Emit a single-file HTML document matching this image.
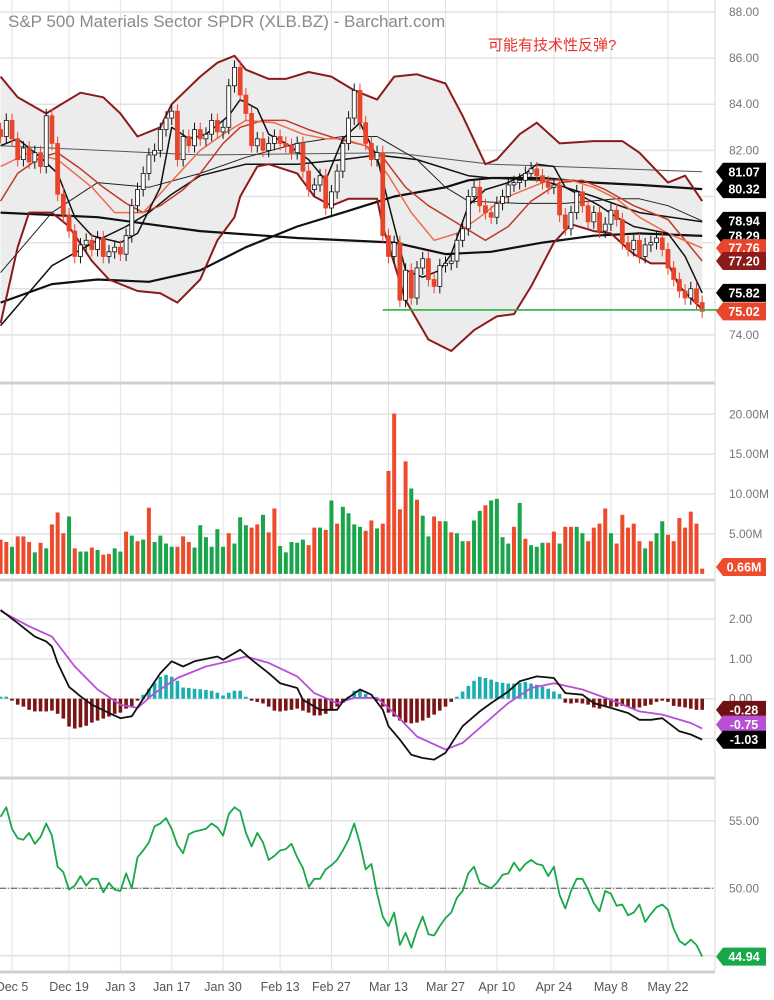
<!DOCTYPE html>
<html><head><meta charset="utf-8"><style>
html,body{margin:0;padding:0;background:#fff;}
svg{display:block;font-family:"Liberation Sans","Noto Sans CJK SC",sans-serif;}
</style></head><body>
<svg id="chart" width="774" height="1000" viewBox="0 0 774 1000" xmlns="http://www.w3.org/2000/svg">
<rect x="0" y="0" width="774" height="1000" fill="#fff"/>
<g id="grid"></g>
<g id="price"></g>
<g id="vol"></g>
<g id="macd"></g>
<g id="rsi"></g>
<g id="axes"></g>
<text x="8" y="27" font-size="17" fill="#8a8a8a">S&amp;P 500 Materials Sector SPDR (XLB.BZ) - Barchart.com</text>
<text x="488" y="50" font-size="15" fill="#e8302a">可能有技术性反弹?</text>
</svg>
<script>
// ---------- data ----------
const dateLabels = ["Dec 5","Dec 19","Jan 3","Jan 17","Jan 30","Feb 13","Feb 27","Mar 13","Mar 27","Apr 10","Apr 24","May 8","May 22"];
const dateIdx = [2,12,21,30,39,49,58,68,78,87,97,107,117];
const closes = [82.6,83.3,82.5,81.6,82.1,81.5,81.9,81.3,83.5,82.3,80.1,79.2,78.5,77.4,77.9,78.1,77.7,78.2,77.4,77.6,77.8,77.5,78.3,79.6,80.3,81.0,81.8,82.0,82.9,83.4,83.7,81.6,82.6,82.2,82.9,82.5,82.7,83.3,82.8,83.0,84.8,85.6,84.4,83.6,82.2,82.5,82.0,82.3,82.6,82.3,82.2,81.9,82.3,81.1,80.3,80.5,80.9,79.5,80.2,81.1,82.3,83.4,84.6,83.2,82.3,81.6,81.9,78.3,77.4,78.0,75.5,76.8,75.6,76.9,77.3,76.4,76.1,77.0,77.1,77.2,78.1,78.6,80.0,80.4,79.6,79.3,79.1,79.7,80.0,80.5,80.6,80.7,81.0,81.2,80.9,80.6,80.4,80.5,79.2,78.6,79.3,80.2,79.6,78.9,79.3,78.5,78.8,79.4,79.0,78.0,77.7,78.1,77.4,77.9,78.0,78.2,77.7,76.9,76.4,75.9,75.6,76.0,75.4,75.02];
const volumes = [4.3,4.0,3.4,4.7,4.7,4.0,2.7,3.9,3.2,6.2,7.7,5.1,7.2,3.2,2.8,2.8,3.3,3.0,2.4,2.5,3.2,2.8,5.3,4.8,4.1,4.3,8.3,4.0,4.8,3.8,3.4,3.4,4.7,4.0,3.3,6.1,4.6,3.4,5.6,3.4,5.1,3.8,7.1,6.1,5.8,6.2,7.4,5.2,8.2,3.5,2.7,4.0,3.9,4.3,3.6,5.8,5.8,5.5,9.2,6.3,8.4,7.6,6.2,5.9,5.4,6.7,5.7,6.3,12.9,20.1,8.1,14.1,10.7,9.3,7.3,4.7,7.2,6.6,6.6,5.2,5.1,4.1,4.1,6.7,7.9,8.6,9.2,9.4,4.6,3.8,5.9,8.9,4.4,3.6,3.4,3.9,3.9,5.3,3.8,5.9,5.9,5.9,5.1,4.1,5.8,6.3,8.2,5.1,3.8,7.4,5.8,6.3,4.1,3.2,4.1,5.1,6.6,4.9,4.1,7.0,5.8,7.8,6.3,0.66];
const volColors = "rrgrrrgrgrrrgrggrgrrggrgrgrgggg" + "rrrgggggg" + "rggg" + "rrgrrgg" + "gggrrgrgrg" + "gggrrgrrrr" + "rgrggrrgrg" + "grggrggggr" + "grgggrrgrr" + "ggrrrrgrrr" + "rrgrggrrrr" + "rrr";
const macdIdx = [0,3,6,8,9,10,12,14,16,19,21,23,25,28,30,32,34,38,39,42,44,47,49,52,53,56,59,60,63,65,67,68,70,72,74,76,78,81,84,86,89,91,94,97,99,102,104,107,110,112,114,116,119,121,123];
const macdVals = [2.23,1.9,1.56,1.44,1.31,0.9,0.3,0.06,-0.15,-0.36,-0.49,-0.44,0,0.64,0.94,0.81,0.94,1.06,0.98,1.23,0.98,0.64,0.39,0.27,-0.03,-0.28,-0.28,-0.07,0.23,0.1,-0.28,-0.69,-1.03,-1.41,-1.49,-1.53,-1.36,-0.69,-0.32,-0.11,0.18,0.44,0.56,0.52,0.14,0.1,-0.11,-0.23,-0.36,-0.53,-0.53,-0.49,-0.82,-0.9,-1.03];
const signalIdx = [0,5,9,13,17,21,24,27,31,36,40,43,47,52,55,59,62,66,69,73,78,81,85,89,93,97,102,107,112,116,121,123];
const signalVals = [2.2,1.82,1.56,0.81,0.23,-0.15,-0.23,0.14,0.52,0.81,0.94,1.06,0.9,0.56,0.14,-0.11,0.02,0.02,-0.36,-0.95,-1.28,-1.11,-0.61,-0.11,0.27,0.39,0.23,-0.03,-0.32,-0.4,-0.61,-0.75];
const histVals = [0.05,0.05,-0.05,-0.15,-0.2,-0.28,-0.32,-0.32,-0.32,-0.3,-0.38,-0.5,-0.7,-0.75,-0.72,-0.68,-0.6,-0.55,-0.5,-0.45,-0.38,-0.35,-0.25,-0.2,-0.05,0.1,0.25,0.4,0.55,0.6,0.55,0.45,0.28,0.27,0.25,0.24,0.22,0.2,0.15,0.08,0.15,0.2,0.2,0.05,-0.05,-0.08,-0.12,-0.2,-0.3,-0.32,-0.3,-0.28,-0.25,-0.3,-0.35,-0.42,-0.42,-0.38,-0.3,-0.2,-0.1,0.05,0.2,0.2,0.12,0.05,-0.05,-0.2,-0.35,-0.45,-0.55,-0.6,-0.62,-0.6,-0.55,-0.48,-0.4,-0.3,-0.2,-0.08,0.05,0.18,0.32,0.45,0.55,0.52,0.48,0.42,0.4,0.38,0.38,0.4,0.42,0.38,0.35,0.3,0.25,0.18,0.12,-0.1,-0.12,-0.1,-0.12,-0.15,-0.22,-0.25,-0.18,-0.2,-0.2,-0.18,-0.2,-0.25,-0.22,-0.18,-0.15,-0.08,-0.05,-0.08,-0.18,-0.2,-0.22,-0.25,-0.28,-0.28];
const rsiVals = [55.3,56.0,54.4,53.7,53.6,54.1,53.3,53.8,54.8,53.9,51.6,51.2,49.9,50.2,50.9,50.2,50.7,50.7,49.7,50.4,49.9,49.8,51.1,50.0,52.3,52.8,53.4,54.6,54.8,55.2,54.4,53.2,52.6,54.0,54.2,54.3,54.4,54.8,54.5,53.9,55.5,56.0,55.7,54.1,53.1,54.1,53.4,52.1,52.4,52.8,52.9,53.3,52.3,51.5,50.1,50.7,50.7,51.4,51.7,52.1,52.8,53.6,54.8,53.3,51.4,51.8,49.6,47.9,47.2,48.2,45.8,46.7,45.6,46.9,47.9,46.6,46.5,47.2,47.8,48.2,49.3,49.8,51.1,51.6,50.4,50.2,50.0,50.4,51.0,51.1,51.9,51.3,51.8,52.1,51.8,51.7,50.9,51.6,49.5,48.5,49.8,50.7,50.7,49.9,48.9,48.3,49.8,49.6,48.7,48.8,48.0,48.2,48.8,47.5,48.1,48.6,48.8,48.4,47.0,46.1,45.8,46.2,45.8,44.94];
// overlay lines (day index, price)
const upperIdx = [0,3,8,10,14,18,21,24,28,30,35,38,41,43,47,50,54,58,62,66,69,73,78,81,85,87,91,94,98,104,109,112,117,120,123];
const upperVals = [85.2,84.3,83.6,83.9,84.5,84.3,83.6,82.6,83.0,84.0,85.2,85.8,86.1,85.5,85.1,85.1,85.4,85.2,84.6,84.2,85.2,85.3,84.9,83.5,81.4,81.6,82.7,83.2,82.3,82.4,82.4,81.9,80.6,80.9,79.8];
const lowerIdx = [0,3,5,9,12,16,19,24,28,31,35,38,41,42,45,47,52,55,58,61,66,67,71,75,79,83,87,90,93,97,100,104,107,111,114,117,119,123];
const lowerVals = [74.5,77.8,79.3,79.3,78.7,77.2,76.4,75.9,75.8,75.4,76.4,78.1,79.1,80.0,81.3,81.4,81.0,80.0,79.6,79.9,79.9,78.7,75.5,73.8,73.3,74.2,74.8,74.9,76.1,78.0,78.8,78.5,78.4,77.5,77.1,77.1,76.1,75.1];
const midIdx = [0,3,7,10,14,18,22,25,28,32,35,39,42,46,50,54,59,64,67,71,75,79,85,89,93,98,102,106,111,117,123];
const midVals = [79.8,81.0,81.7,81.9,81.2,80.4,79.7,79.3,79.6,80.3,81.0,82.3,83.0,83.3,83.3,82.9,82.5,82.2,81.7,80.4,79.6,79.0,78.1,78.7,79.8,80.6,80.7,80.3,79.6,79.0,77.2];
const emaIdx = [0,5,10,16,20,25,29,35,39,43,48,53,57,60,64,68,72,76,80,84,88,92,96,100,104,108,112,117,123];
const emaVals = [81.3,81.9,81.6,80.4,79.3,79.3,80.4,82.0,82.7,83.3,83.2,82.7,82.5,82.5,82.2,80.9,79.3,78.1,78.4,79.1,79.9,80.3,80.7,80.7,80.4,79.9,79.1,78.4,77.76];
const fastIdx = [0,3,7,10,13,16,21,24,28,30,33,36,40,42,45,47,50,54,57,60,63,66,68,71,74,77,79,82,85,89,92,94,97,99,102,105,108,111,115,117,120,123];
const fastVals = [82.2,82.5,81.7,81.0,79.1,78.3,78.0,78.4,80.4,83.0,82.5,82.7,83.5,84.2,83.8,82.7,82.3,81.6,80.7,82.5,83.2,81.7,79.7,76.8,76.5,76.8,77.5,79.6,80.3,80.6,81.0,81.4,81.3,80.4,80.0,79.6,79.1,78.7,78.5,78.4,77.4,75.82];
const ma30Idx = [0,9,17,26,35,43,52,60,66,73,78,82,91,99,108,112,117,123];
const ma30Vals = [76.7,79.3,80.6,80.4,81.0,81.7,82.3,82.6,82.6,81.6,80.4,79.8,79.7,79.7,79.9,79.9,79.6,78.94];
const ma50Idx = [0,9,17,22,26,30,35,43,52,60,66,73,82,86,95,99,104,112,123];
const ma50Vals = [74.4,77.0,78.1,78.7,79.3,80.1,80.9,81.4,81.4,81.6,81.8,81.6,80.9,80.8,80.7,80.4,80.0,79.3,78.9];
const ma100Idx = [0,17,35,52,69,78,86,95,104,112,123];
const ma100Vals = [79.3,79.1,78.5,78.2,78.0,77.5,77.6,78.0,78.3,78.4,78.29];
const ma150Idx = [0,9,17,26,35,43,52,60,69,78,82,86,95,104,112,123];
const ma150Vals = [75.4,76.2,76.4,76.3,76.8,77.8,78.7,79.3,80.0,80.4,80.7,80.8,80.8,80.6,80.5,80.32];
const ma200Idx = [0,35,69,86,123];
const ma200Vals = [82.2,81.8,81.9,81.4,81.07];
const supportLevel = 75.08;
const supportStart = 67;
const priceTicks = [88,86,84,82,74];
const volTicks = [20,15,10,5];
const macdTicks = [2,1,0];
const rsiTicks = [55,50];

// ---------- scales ----------
const NS = "http://www.w3.org/2000/svg";
const PLOT_R = 715;
function xs(i){return 0.6 + i*5.704;}
function py(p){return 12 + (88-p)*23.06;}
function vy(v){return 573.9 - v*7.98;}
function my(v){return 698.7 - v*39.8;}
function ry(v){return 888.3 - (v-50)*13.5;}
function mk(tag, attrs, parent){
  const e = document.createElementNS(NS, tag);
  for (const k in attrs) e.setAttribute(k, attrs[k]);
  parent.appendChild(e);
  return e;
}
const G = id => document.getElementById(id);

// ---------- grid ----------
const grid = G('grid');
const panels = [[0,381],[387,578],[584,776],[782,970]];
dateIdx.forEach((di,k)=>{
  const x = xs(di);
  const l = mk('line',{x1:x,x2:x,y1:0,y2:970,stroke:'#e2e2e2','stroke-width':1},grid);
  
  
  const t = mk('text',{x:x,y:991,'font-size':12.5,fill:'#555','text-anchor':'middle'},G('axes'));
  t.textContent = dateLabels[k];
  
  
});
function hline(y, parent){
  const l = mk('line',{x1:0,x2:PLOT_R,y1:y,y2:y,stroke:'#e2e2e2','stroke-width':1.5},parent);
  
  
}
function tickLabel(y, txt, parent){
  const t = mk('text',{x:729,y:y+4,'font-size':12,fill:'#777'},parent);
  t.textContent = txt;
  
  
}
[76,78,80].forEach(p=>hline(py(p),grid));
priceTicks.forEach(p=>{hline(py(p),grid);tickLabel(py(p),p.toFixed(2),G('axes'));});
volTicks.forEach(v=>{hline(vy(v),grid);tickLabel(vy(v),v.toFixed(2)+'M',G('axes'));});
macdTicks.forEach(v=>{hline(my(v),grid);tickLabel(my(v),v.toFixed(2),G('axes'));});
hline(my(-1),grid);
rsiTicks.forEach(v=>{hline(ry(v),grid);tickLabel(ry(v),v.toFixed(2),G('axes'));});
hline(ry(45),grid);
// separators and right border
[383,580,778,972].forEach(y=>{
  const l = mk('line',{x1:0,x2:PLOT_R,y1:y,y2:y,stroke:'#d0d0d0','stroke-width':3},grid);
  
  
});
const rb = mk('line',{x1:PLOT_R,x2:PLOT_R,y1:0,y2:972,stroke:'#d8d8d8','stroke-width':1},grid);



// ---------- price panel ----------
const price = G('price');
function pts(idx, vals, yf){return idx.map((d,k)=>xs(d).toFixed(1)+','+yf(vals[k]).toFixed(1));}
const band = mk('polygon',{points: pts(upperIdx,upperVals,py).concat(pts(lowerIdx,lowerVals,py).reverse()).join(' '), fill:'#ececec'},price);


function line(idx, vals, yf, color, w, name, parent){
  const e = mk('polyline',{points:pts(idx,vals,yf).join(' '),fill:'none',stroke:color,'stroke-width':w,'stroke-linejoin':'round'},parent);
  
  
}
line(ma200Idx,ma200Vals,py,'#555',1,'ma-200-line',price);
line(ma100Idx,ma100Vals,py,'#111',2.2,'ma-100-line',price);
line(ma150Idx,ma150Vals,py,'#111',2.2,'ma-150-line',price);
line(ma50Idx,ma50Vals,py,'#111',1.5,'ma-50-line',price);
line(ma30Idx,ma30Vals,py,'#222',1,'ma-30-line',price);
line(upperIdx,upperVals,py,'#8b1a1a',2,'bollinger-upper',price);
line(lowerIdx,lowerVals,py,'#8b1a1a',2,'bollinger-lower',price);
line(midIdx,midVals,py,'#c0392b',1.5,'bollinger-middle',price);
line(emaIdx,emaVals,py,'#ef6a4c',1.5,'ema-line',price);
line(fastIdx,fastVals,py,'#111',1.5,'ma-5-line',price);
// candles
closes.forEach((c,i)=>{
  const o = i>0 ? closes[i-1] : c+0.3;
  const x = xs(i);
  const up = c >= o;
  const col = up ? '#111' : '#e8452c';
  const hi = Math.max(o,c)+0.3, lo = Math.min(o,c)-0.3;
  const w = mk('line',{x1:x,x2:x,y1:py(hi),y2:py(lo),stroke:col,'stroke-width':1},price);
  
  
  const top = py(Math.max(o,c)), h = Math.max(1,Math.abs(py(o)-py(c)));
  const b = mk('rect',{x:x-2,y:top,width:4,height:h,fill:up?'#fff':col,stroke:col,'stroke-width':0.8},price);
  
  
});
const sup = mk('line',{x1:xs(supportStart),x2:PLOT_R+10,y1:py(supportLevel),y2:py(supportLevel),stroke:'#2bb34a','stroke-width':1.6},price);



// ---------- volume ----------
const vol = G('vol');
volumes.forEach((v,i)=>{
  const r = mk('rect',{x:xs(i)-2,y:vy(v),width:4,height:vy(0)-vy(v),fill:volColors[i]==='g'?'#19a54a':'#ee4a2c'},vol);
  
  
});

// ---------- MACD ----------
const macd = G('macd');
histVals.forEach((v,i)=>{
  const y0 = my(0), y1 = my(v);
  const r = mk('rect',{x:xs(i)-1.8,y:Math.min(y0,y1),width:3.6,height:Math.max(0.5,Math.abs(y1-y0)),fill:v>=0?'#1aaeb0':'#7b1416'},macd);
  
  
});
line(signalIdx,signalVals,my,'#b84fd6',1.8,'macd-signal-line',macd);
line(macdIdx,macdVals,my,'#111',1.8,'macd-line',macd);

// ---------- RSI ----------
const rsi = G('rsi');
const mid = mk('line',{x1:0,x2:PLOT_R,y1:ry(50),y2:ry(50),stroke:'#555','stroke-width':1,'stroke-dasharray':'6,2,1,2'},rsi);


line(rsiVals.map((v,i)=>i),rsiVals,ry,'#18a84a',1.8,'rsi-line',rsi);

// ---------- badges ----------
const badges = [
  [py(81.07),'81.07','#000'],[py(80.32),'80.32','#000'],[py(78.94),'78.94','#000'],[py(78.29),'78.29','#000'],
  [py(77.76),'77.76','#e8452c'],[py(77.20),'77.20','#8b1a1a'],[py(75.82),'75.82','#000'],[py(75.02),'75.02','#e8452c'],
  [567,'0.66M','#ee4a2c'],[my(-0.28),'-0.28','#6e1214'],[my(-0.65),'-0.75','#b84fd6'],[my(-1.03),'-1.03','#000'],
  [ry(44.94),'44.94','#18a84a']
];
badges.forEach(b=>{
  const y=b[0];
  const g = mk('g',{},G('axes'));
  
  
  mk('polygon',{points:`716,${y} 723,${y-9} 766,${y-9} 766,${y+9} 723,${y+9}`,fill:b[2]},g);
  const t = mk('text',{x:744,y:y+4.5,'font-size':12.5,'font-weight':'bold',fill:'#fff','text-anchor':'middle'},g);
  t.textContent = b[1];
});
</script>
</body></html>
